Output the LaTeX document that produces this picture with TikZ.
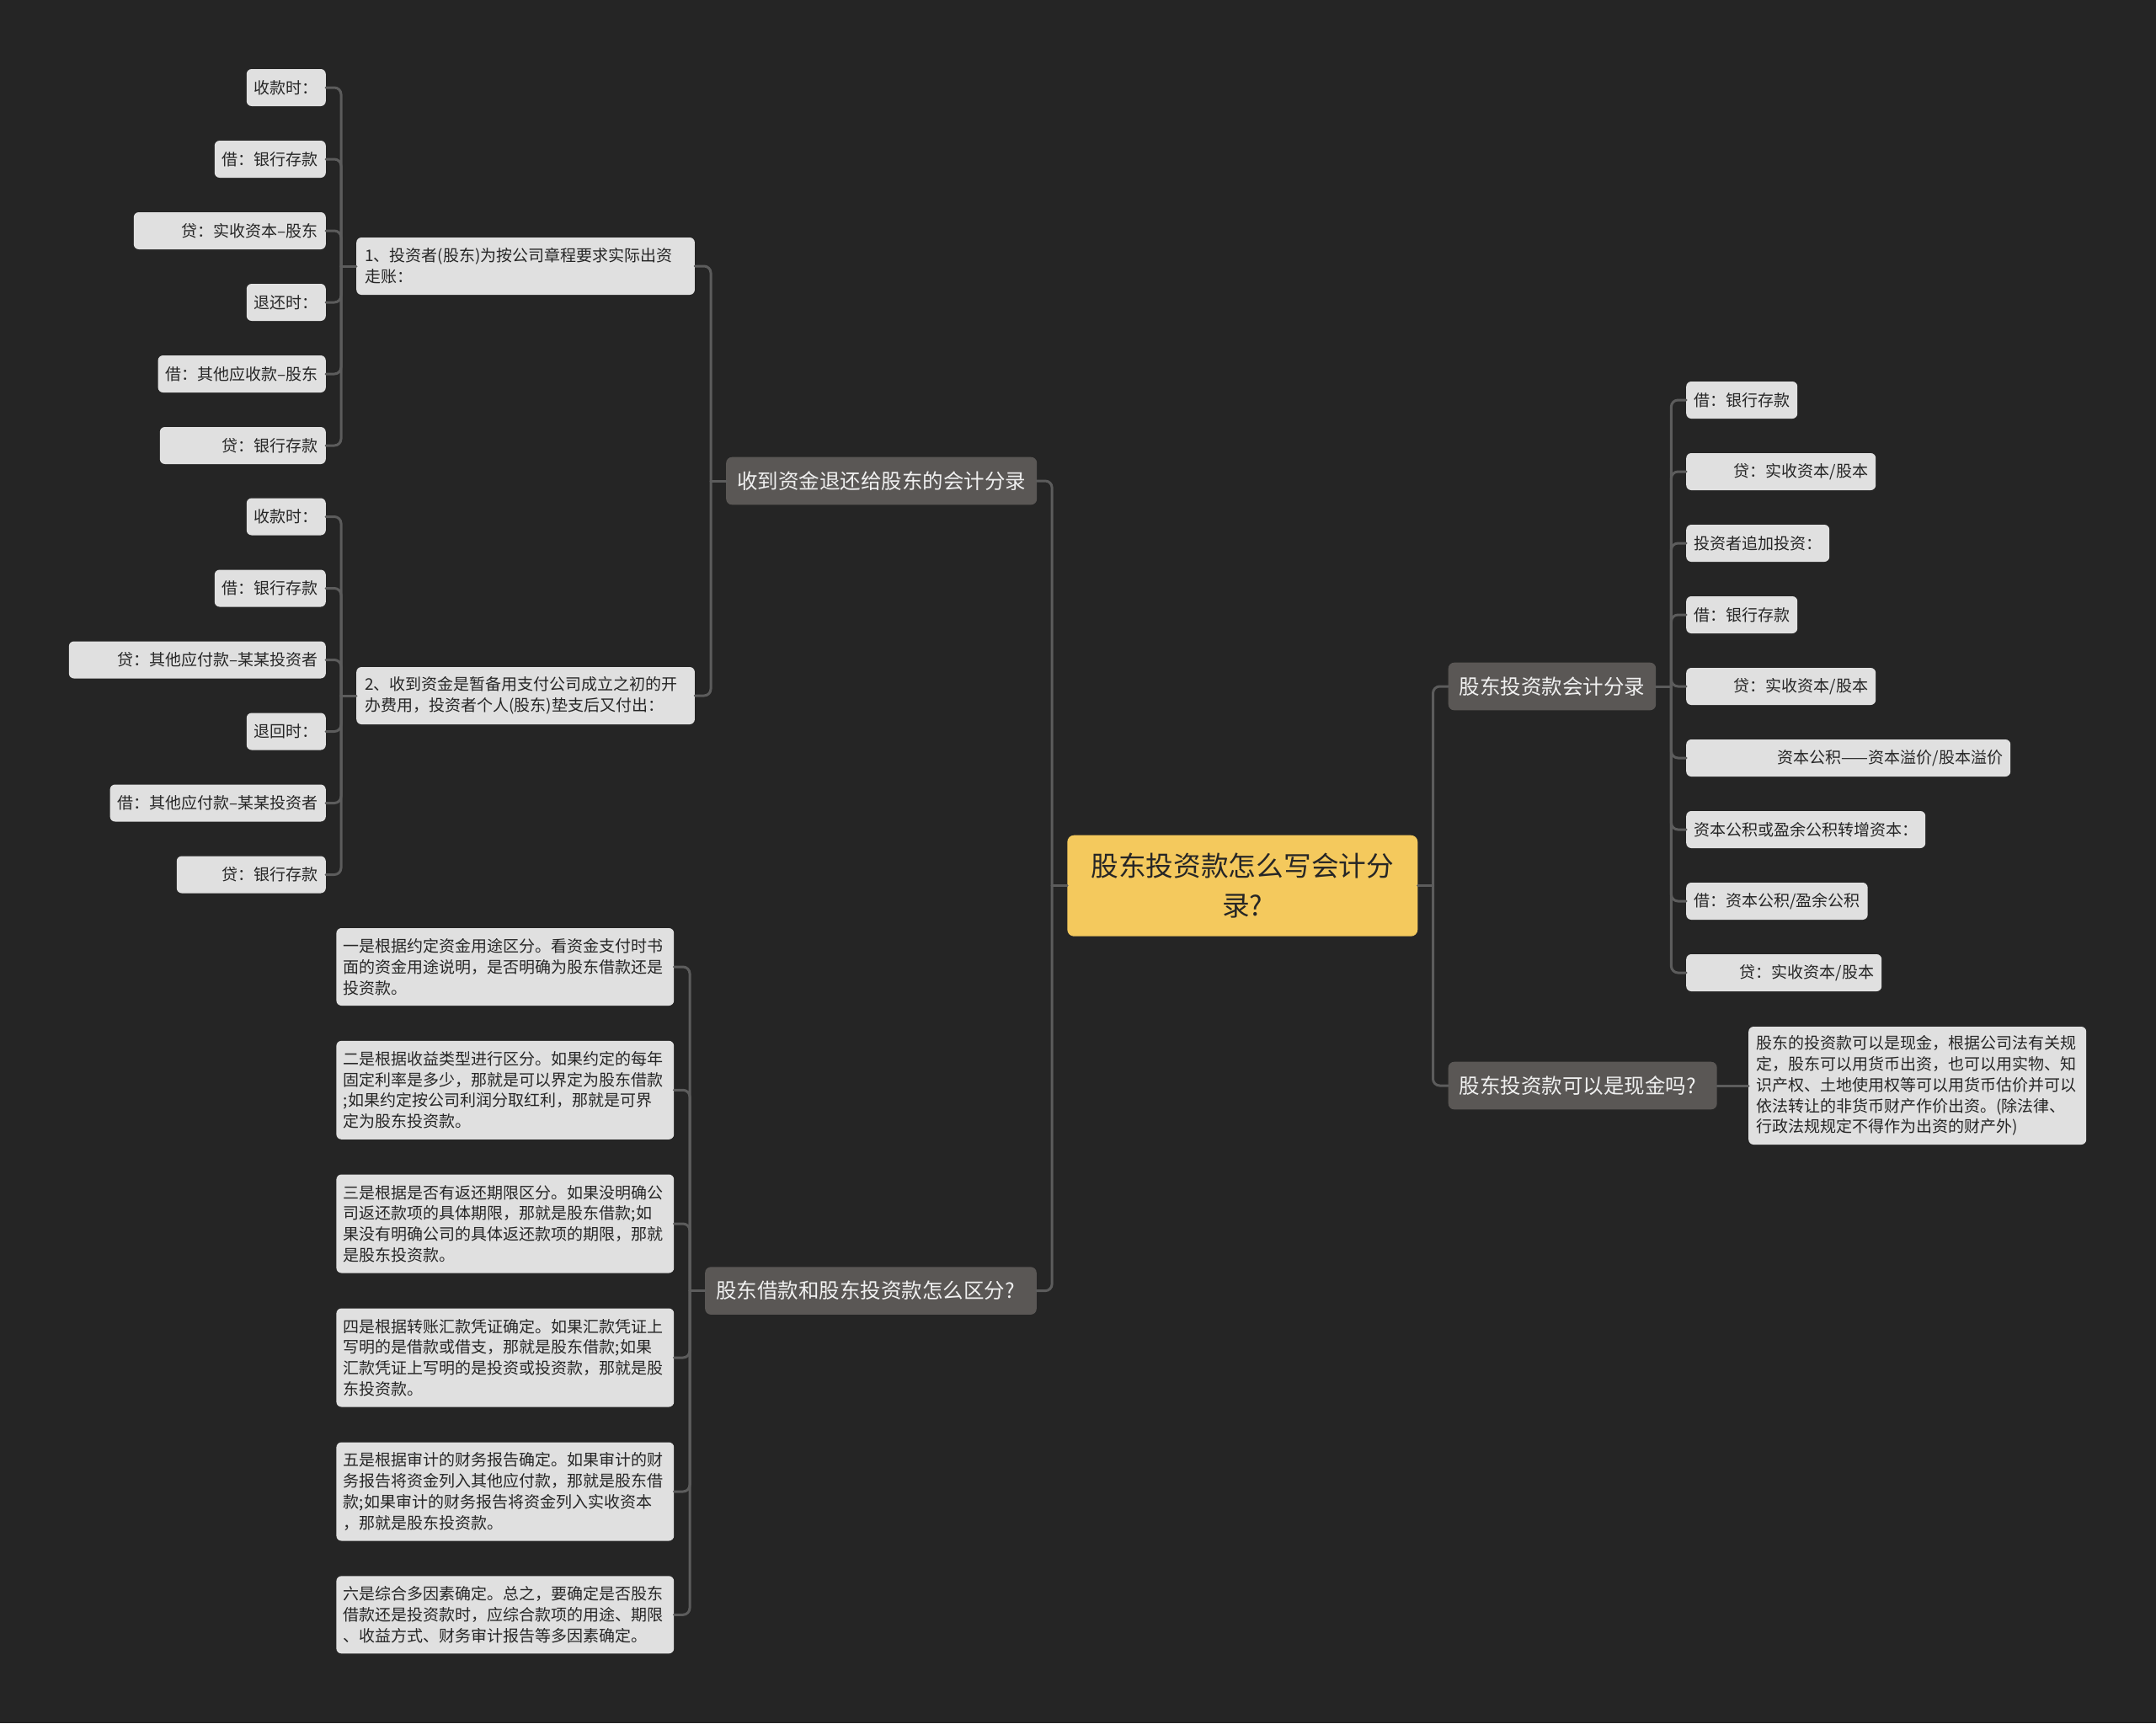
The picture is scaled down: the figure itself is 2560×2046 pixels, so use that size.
\documentclass[tikz,border=0pt]{standalone}
\usepackage{fontspec}
\setmainfont{Noto Sans CJK SC}
\definecolor{bgdark}{HTML}{252525}
\definecolor{leafgray}{HTML}{E0E0E0}
\definecolor{leaftext}{HTML}{262626}
\definecolor{branchgray}{HTML}{5A5755}
\definecolor{rootyellow}{HTML}{F4C95D}
\definecolor{linegray}{HTML}{5C5C5C}

\begin{document}
\begin{tikzpicture}[
		x=1pt, y=-1pt,
		line join=round,
		line cap=round,
		leaf/.style={fill=leafgray, text=leaftext, rounded corners=6pt,
			font=\fontsize{19}{24.8}\selectfont, inner xsep=9pt, inner ysep=0pt,
			minimum height=44pt},
		para/.style={leaf, text width=384pt, align=left, inner xsep=8.4pt},
		branch/.style={fill=branchgray, text=white!94!black, rounded corners=7pt,
			font=\fontsize{24.5}{30}\selectfont, inner xsep=13pt, inner ysep=0pt,
			minimum height=56.6pt},
		root/.style={fill=rootyellow, text=leaftext, rounded corners=8pt,
			font=\fontsize{32.7}{46.7}\selectfont, align=center,
			minimum width=416pt, minimum height=120pt},
		link/.style={draw=linegray, line width=3pt, rounded corners=8pt}
		]
		
		\useasboundingbox (0,0) rectangle (2560,2046);
		\fill[bgdark] (0,0) rectangle (2560,2046);
		
		% centre
		\node[root] (root) at (1475.3,1051.7) {股东投资款怎么写会计分\\录?};
		
		% left branches
		\node[branch, anchor=west] (B1) at (862,571) {收到资金退还给股东的会计分录};
		\node[branch, anchor=east, text width=367.6pt, align=left] (B2) at (1231,1532.6) 
		{股东借款和股东投资款怎么区分?};
		
		\node[leaf, anchor=east, text width=381.7pt, align=left, inner xsep=10pt, 
		minimum height=68pt] (g1) at (825.1,316) 
		{1、投资者(股东)为按公司章程要求实际出资\\走账：};
		\node[leaf, anchor=east, text width=381.7pt, align=left, inner xsep=10pt, 
		minimum height=68pt] (g2) at (825.1,826) 
		{2、收到资金是暂备用支付公司成立之初的开\\办费用，投资者个人(股东)垫支后又付出：};
		
		\node[leaf, anchor=east] (a1) at (387,104) {收款时：};
		\node[leaf, anchor=east] (a2) at (387,189) {借：银行存款};
		\node[leaf, anchor=east, text width=210pt, align=right] (a3) at (387,274) {贷：实收资本–股东};
		\node[leaf, anchor=east] (a4) at (387,359) {退还时：};
		\node[leaf, anchor=east] (a5) at (387,444) {借：其他应收款–股东};
		\node[leaf, anchor=east, text width=179pt, align=right] (a6) at (387,529) {贷：银行存款};
		
		\node[leaf, anchor=east] (b1) at (387,613.5) {收款时：};
		\node[leaf, anchor=east] (b2) at (387,698.5) {借：银行存款};
		\node[leaf, anchor=east, text width=287pt, align=right] (b3) at (387,783.5) {贷：其他应付款–某某投资者};
		\node[leaf, anchor=east] (b4) at (387,868.5) {退回时：};
		\node[leaf, anchor=east] (b5) at (387,953.5) {借：其他应付款–某某投资者};
		\node[leaf, anchor=east, text width=159pt, align=right] (b6) at (387,1038.5) {贷：银行存款};
		
		\node[para, anchor=east, minimum height=92pt] (p1) at (800.4,1148) 
		{一是根据约定资金用途区分。看资金支付时书\\面的资金用途说明，是否明确为股东借款还是\\投资款。};
		\node[para, anchor=east, minimum height=117pt] (p2) at (800.4,1294.3) 
		{二是根据收益类型进行区分。如果约定的每年\\固定利率是多少，那就是可以界定为股东借款\\;如果约定按公司利润分取红利，那就是可界\\定为股东投资款。};
		\node[para, anchor=east, minimum height=117pt] (p3) at (800.4,1453) 
		{三是根据是否有返还期限区分。如果没明确公\\司返还款项的具体期限，那就是股东借款;如\\果没有明确公司的具体返还款项的期限，那就\\是股东投资款。};
		\node[para, anchor=east, minimum height=117pt] (p4) at (800.4,1612) 
		{四是根据转账汇款凭证确定。如果汇款凭证上\\写明的是借款或借支，那就是股东借款;如果\\汇款凭证上写明的是投资或投资款，那就是股\\东投资款。};
		\node[para, anchor=east, minimum height=117pt] (p5) at (800.4,1771) 
		{五是根据审计的财务报告确定。如果审计的财\\务报告将资金列入其他应付款，那就是股东借\\款;如果审计的财务报告将资金列入实收资本\\，那就是股东投资款。};
		\node[para, anchor=east, minimum height=92pt] (p6) at (800.4,1917.3) 
		{六是综合多因素确定。总之，要确定是否股东\\借款还是投资款时，应综合款项的用途、期限\\、收益方式、财务审计报告等多因素确定。};
		
		% right branches
		\node[branch, anchor=west] (R1) at (1719.5,815) {股东投资款会计分录};
		\node[branch, anchor=west, text width=293pt, align=left] (R2) at (1719.5,1289) 
		{股东投资款可以是现金吗?};
		
		\node[leaf, anchor=west] (r1) at (2002,475) {借：银行存款};
		\node[leaf, anchor=west, text width=207pt, align=right] (r2) at (2002,560) {贷：实收资本/股本};
		\node[leaf, anchor=west] (r3) at (2002,645) {投资者追加投资：};
		\node[leaf, anchor=west] (r4) at (2002,730) {借：银行存款};
		\node[leaf, anchor=west, text width=207pt, align=right] (r5) at (2002,815) {贷：实收资本/股本};
		\node[leaf, anchor=west, text width=367pt, align=right] (r6) at (2002,900) {资本公积——资本溢价/股本溢价};
		\node[leaf, anchor=west] (r7) at (2002,985) {资本公积或盈余公积转增资本：};
		\node[leaf, anchor=west] (r8) at (2002,1070) {借：资本公积/盈余公积};
		\node[leaf, anchor=west, text width=214pt, align=right] (r9) at (2002,1155) {贷：实收资本/股本};
		
		\node[leaf, anchor=west, text width=383pt, align=left, minimum height=140pt] (ans) at (2076,1289) 
		{股东的投资款可以是现金，根据公司法有关规\\定，股东可以用货币出资，也可以用实物、知\\识产权、土地使用权等可以用货币估价并可以\\依法转让的非货币财产作价出资。(除法律、\\行政法规规定不得作为出资的财产外)};
		
		% connectors
		\coordinate (t1) at ([xshift=-18pt]g1.west);
		\foreach \c in {a1,a2,a3,a4,a5,a6} \draw[link] (\c.east) -| (t1);
		\draw[link] (t1) -- (g1.west);
		
		\coordinate (t2) at ([xshift=-18pt]g2.west);
		\foreach \c in {b1,b2,b3,b4,b5,b6} \draw[link] (\c.east) -| (t2);
		\draw[link] (t2) -- (g2.west);
		
		\coordinate (tb1) at ([xshift=-18pt]B1.west);
		\foreach \c in {g1,g2} \draw[link] (\c.east) -| (tb1);
		\draw[link] (tb1) -- (B1.west);
		
		\coordinate (tb2) at ([xshift=-18pt]B2.west);
		\foreach \c in {p1,p2,p3,p4,p5,p6} \draw[link] (\c.east) -| (tb2);
		\draw[link] (tb2) -- (B2.west);
		
		\coordinate (tl) at ([xshift=-18pt]root.west);
		\foreach \c in {B1,B2} \draw[link] (\c.east) -| (tl);
		\draw[link] (tl) -- (root.west);
		
		\coordinate (tr) at ([xshift=18pt]root.east);
		\foreach \c in {R1,R2} \draw[link] (\c.west) -| (tr);
		\draw[link] (tr) -- (root.east);
		
		\coordinate (tr1) at ([xshift=18pt]R1.east);
		\foreach \c in {r1,r2,r3,r4,r5,r6,r7,r8,r9} \draw[link] (\c.west) -| (tr1);
		\draw[link] (tr1) -- (R1.east);
		
		\draw[link] (R2.east) -- (ans.west);
		
	\end{tikzpicture}
\end{document}
